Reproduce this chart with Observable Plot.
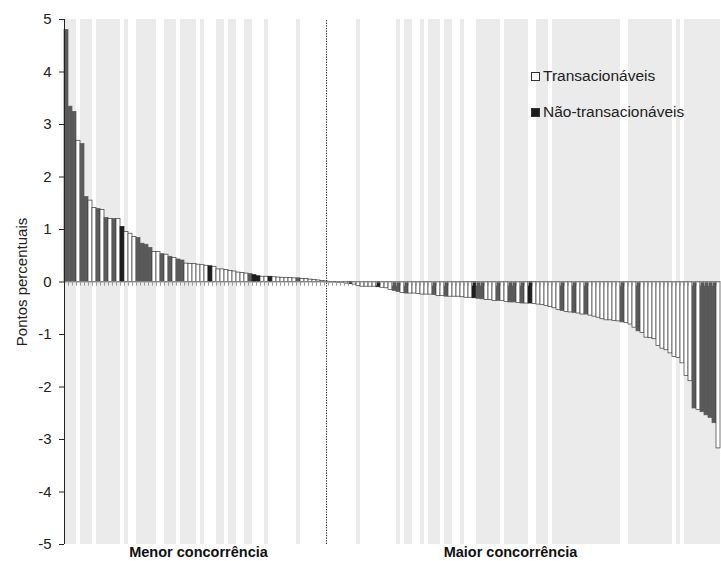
<!DOCTYPE html>
<html><head><meta charset="utf-8">
<script src="https://cdn.jsdelivr.net/npm/d3@7"></script>
<script src="https://cdn.jsdelivr.net/npm/@observablehq/plot@0.6"></script>
<style>
body{margin:0;background:#fff;font-family:"Liberation Sans",Arial,sans-serif}
#wrap{position:relative;width:721px;height:561px}
.leg{position:absolute;left:531px;font-size:15.5px;color:#222;display:flex;align-items:center;line-height:18px;white-space:nowrap}
.sw{width:9px;height:9px;border:1px solid #333;margin-right:3px;box-sizing:border-box}
</style></head><body><div id="wrap"></div>
<script>
// bar values (percentage points), sorted
const values = [
 4.8, 3.34, 3.24, 2.69, 2.63, 1.62, 1.55, 1.41, 1.39, 1.37,
 1.22, 1.2, 1.2, 1.2, 1.05, 0.95, 0.92, 0.86, 0.84, 0.73,
 0.71, 0.65, 0.57, 0.57, 0.53, 0.52, 0.48, 0.46, 0.43, 0.41,
 0.35, 0.34, 0.34, 0.33, 0.32, 0.31, 0.3, 0.29, 0.24, 0.24,
 0.23, 0.21, 0.2, 0.18, 0.17, 0.16, 0.15, 0.13, 0.11, 0.1,
 0.1, 0.1, 0.09, 0.085, 0.08, 0.08, 0.075, 0.07, 0.07, 0.06,
 0.055, 0.045, 0.04, 0.03, 0.02, 0.01,
 -0.01, -0.01, -0.02, -0.02, -0.03, -0.04, -0.05,
 -0.08, -0.09, -0.09, -0.09, -0.09, -0.1, -0.11,
 -0.12, -0.15, -0.17, -0.19, -0.21, -0.22, -0.22, -0.22, -0.23, -0.24,
 -0.24, -0.24, -0.25, -0.27, -0.27, -0.28, -0.28, -0.28, -0.28, -0.29,
 -0.3, -0.3, -0.31, -0.32, -0.33, -0.34, -0.34, -0.36, -0.36, -0.36,
 -0.38, -0.39, -0.39, -0.4, -0.41, -0.41, -0.41, -0.42, -0.43, -0.44,
 -0.46, -0.48, -0.5, -0.53, -0.55, -0.57, -0.58, -0.59, -0.6, -0.62,
 -0.62, -0.64, -0.66, -0.68, -0.71, -0.73, -0.73, -0.74, -0.75, -0.77,
 -0.78, -0.81, -0.87, -0.94, -0.97, -1.06, -1.07, -1.09, -1.22, -1.27,
 -1.3, -1.36, -1.43, -1.45, -1.55, -1.79, -1.89, -2.41, -2.44, -2.48,
 -2.54, -2.59, -2.69, -3.17
];
// T = transacionável, N = não-transacionável, K = não-transacionável (darker shade)
const types = [
 "N","N","N","T","N","N","T","T","N","T",
 "N","T","N","T","K","T","T","T","N","N",
 "N","N","T","T","N","T","N","T","N","N",
 "T","T","T","T","T","T","K","T","T","T",
 "T","T","T","T","T","T","N","K","K","T",
 "T","K","T","T","T","T","T","T","N","T",
 "T","T","T","T","T","T",
 "N","T","N","T","T","K","T",
 "T","T","T","T","T","K","T",
 "T","T","N","N","T","N","T","T","T","T",
 "T","T","N","T","T","N","T","T","T","T",
 "T","T","K","N","N","T","T","T","N","T",
 "T","N","N","T","N","T","K","T","T","T",
 "T","T","T","T","N","T","T","N","T","T",
 "N","T","T","T","T","T","T","T","T","N",
 "T","T","T","N","T","T","T","T","T","T",
 "T","T","T","T","T","T","T","N","T","N",
 "N","N","N","T"
];
// bars with a grey background band
const stripeBars = [1,2,3,5,6,7,9,10,11,12,13,14,16,19,20,21,22,23,26,27,28,30,31,32,33,35,39,40,42,43,46,47,51,59,
 74,84,86,87,90,92,93,94,96,97,100,104,105,106,107,108,109,111,112,113,114,115,116,119,120,121,
 123,124,125,126,127,128,129,130,131,132,133,134,135,136,137,138,139,142,143,144,145,146,147,148,149,150,151,152,154,
 156,157,158,159,160,161,162,163,164];
const yTicks = [-5,-4,-3,-2,-1,0,1,2,3,4,5];
const splitBar = [66];
const groupLabels = ["Menor concorrência", "Maior concorrência"];
const groupAt = [34, 112];
const legendItems = [["Transacionáveis","#ffffff"],["Não-transacionáveis","#1c1c1c"]];

const fills = {T:"#ffffff", N:"#5a5a5a", K:"#1e1e1e"};
const data = values.map((v,k)=>({i:k+1, v, t:types[k]}));

const chart = Plot.plot({
  width:721, height:561, marginLeft:64, marginRight:1, marginTop:19, marginBottom:17,
  style:{fontFamily:"'Liberation Sans', Arial, sans-serif", fontSize:"14px", color:"#222", background:"#fff", overflow:"visible"},
  x:{type:"band", domain:data.map(d=>d.i), padding:0, axis:null},
  y:{domain:[-5,5], axis:null},
  marks:[
    Plot.barY(stripeBars, {x:d=>d, y1:-5, y2:5, fill:"#ebebeb"}),
    Plot.barY(data, {x:"i", y:"v", fill:d=>fills[d.t], stroke:d=>d.t==="T"?"#3a3a3a":fills[d.t], strokeWidth:0.7}),
    Plot.ruleY([0], {stroke:"#9a9a9a", strokeWidth:1.2}),
    Plot.ruleX(data, {x:"i", y1:0, y2:-0.08, dx:-2, stroke:"#9a9a9a"}),
    Plot.ruleX(splitBar, {x:d=>d, y1:-5, y2:5, stroke:"#222", strokeDasharray:"1.3,1.3"}),
    Plot.axisY(yTicks, {tickSize:5, tickPadding:8, tickFormat:d=>String(d), fontSize:15, label:"Pontos percentuais", labelAnchor:"center", labelArrow:"none", labelOffset:48, stroke:"#222"}),
    Plot.ruleX([0], {x:()=>1, y1:-5, y2:5, dx:-2, stroke:"#222"}),
    Plot.text(groupLabels, {x:(d,k)=>groupAt[k], y:-5, dy:8, text:d=>d, fontWeight:"bold", fontSize:14.5, fill:"#111"})
  ]
});
const wrap = document.getElementById("wrap");
wrap.appendChild(chart);
legendItems.forEach(([label,col],k)=>{
  const div = document.createElement("div");
  div.className = "leg";
  div.style.top = (67 + k*36) + "px";
  const sw = document.createElement("span");
  sw.className = "sw"; sw.style.background = col;
  div.appendChild(sw);
  div.appendChild(document.createTextNode(label));
  wrap.appendChild(div);
});
</script>
</body></html>
